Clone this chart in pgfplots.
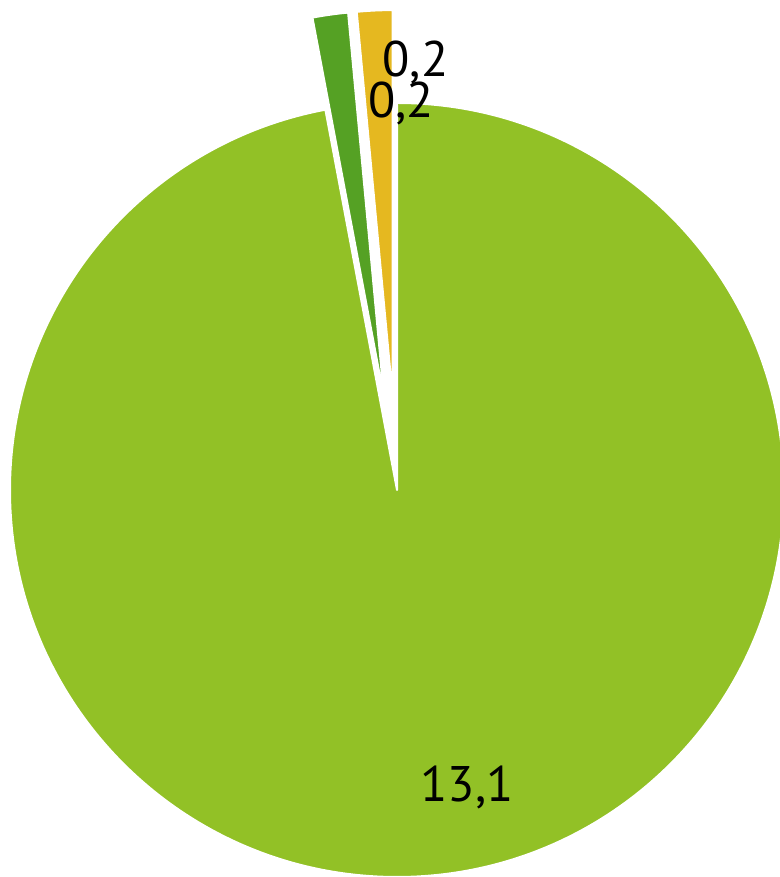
\documentclass[border=0pt]{standalone}
\usepackage{pgfplots}
\pgfplotsset{compat=1.18}
\usepackage{pgfplotstable}
\usepackage{fontspec}
\setmainfont{PT Sans}
\definecolor{slice0}{HTML}{92C126}
\definecolor{slice1}{HTML}{55A124}
\definecolor{slice2}{HTML}{E5B820}
% value, explosion distance (px), label baseline position (px from pie centre)
\pgfplotstableread{
name value explode lx ly
main 13.1 0 70 -312
green 0.2 93 4 372
yellow 0.2 93 18.5 413
}\piedata
\begin{document}
\begin{tikzpicture}
\pgfplotstablegetrowsof{\piedata}
\pgfmathtruncatemacro{\nrows}{\pgfplotsretval-1}
\xdef\total{0}
\foreach \i in {0,...,\nrows}{%
  \pgfplotstablegetelem{\i}{value}\of\piedata
  \pgfmathsetmacro\t{\total+\pgfplotsretval}%
  \xdef\total{\t}%
}
\xdef\curang{90}
\foreach \i in {0,...,\nrows}{%
  \pgfplotstablegetelem{\i}{value}\of\piedata \let\v\pgfplotsretval
  \pgfplotstablegetelem{\i}{explode}\of\piedata \let\e\pgfplotsretval
  \pgfplotstablegetelem{\i}{lx}\of\piedata \expandafter\xdef\csname lx\i\endcsname{\pgfplotsretval}%
  \pgfplotstablegetelem{\i}{ly}\of\piedata \expandafter\xdef\csname ly\i\endcsname{\pgfplotsretval}%
  \pgfplotstablegetelem{\i}{value}\of\piedata \expandafter\xdef\csname lt\i\endcsname{\pgfplotsretval}%
  \pgfmathsetmacro\a{\curang}%
  \pgfmathsetmacro\b{\curang-\v/\total*360}%
  \pgfmathsetmacro\m{(\a+\b)/2}%
  \pgfmathsetmacro\cx{\e*cos(\m)}%
  \pgfmathsetmacro\cy{\e*sin(\m)}%
  \expandafter\xdef\csname pa\i\endcsname{\a}%
  \expandafter\xdef\csname pb\i\endcsname{\b}%
  \expandafter\xdef\csname cx\i\endcsname{\cx}%
  \expandafter\xdef\csname cy\i\endcsname{\cy}%
  \xdef\curang{\b}%
}
\begin{axis}[x=0.5pt,y=0.5pt,xmin=-397,xmax=383,ymin=-387,ymax=490,
  hide axis, clip=true, scale only axis]
\pgfplotsinvokeforeach{0,1,2}{%
  \fill[fill=slice#1, draw=white, line width=1pt, line join=round]
    (axis cs:\csname cx#1\endcsname,\csname cy#1\endcsname)
    -- ++(\csname pa#1\endcsname:193.5pt)
    arc[start angle=\csname pa#1\endcsname, end angle=\csname pb#1\endcsname, radius=193.5pt]
    -- cycle;
}
\pgfplotsinvokeforeach{0,1,2}{%
  \node[anchor=base, inner sep=0pt, font=\fontsize{25}{30}\selectfont]
    at (axis cs:\csname lx#1\endcsname,\csname ly#1\endcsname)
    {\pgfmathprintnumber[use comma, fixed, precision=1, fixed zerofill, assume math mode=true]{\csname lt#1\endcsname}};
}
\end{axis}
\pgfresetboundingbox
\path (current axis.south west) rectangle (current axis.north east);
\end{tikzpicture}
\end{document}
